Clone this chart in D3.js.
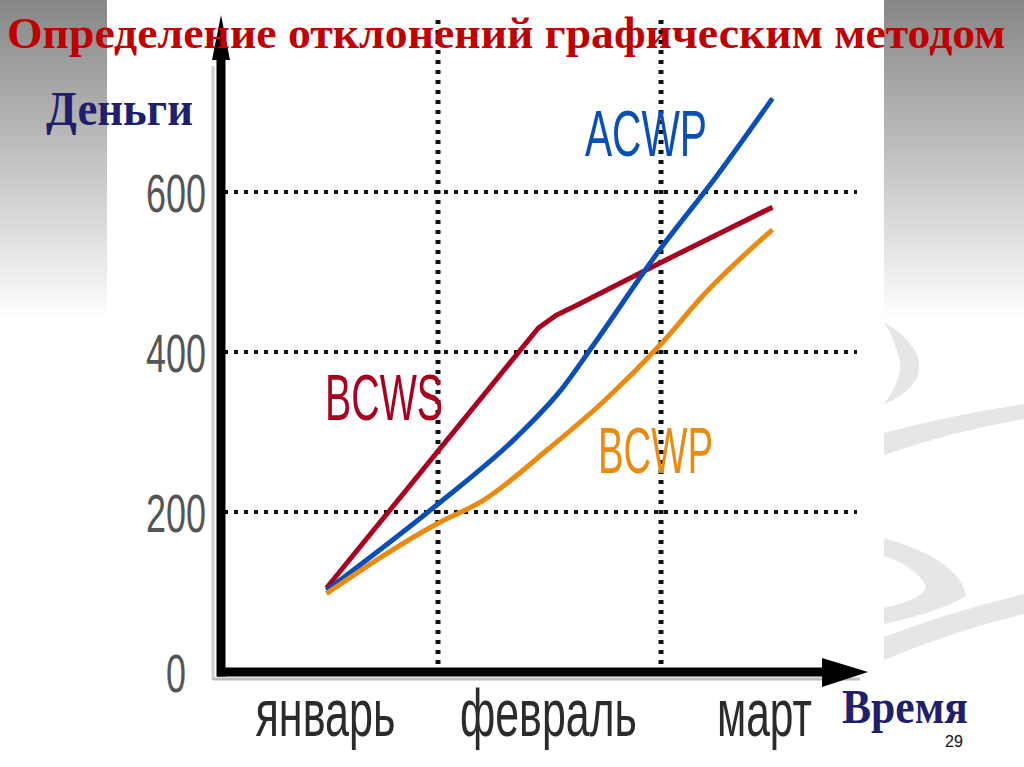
<!DOCTYPE html>
<html>
<head>
<meta charset="utf-8">
<script src="https://cdn.jsdelivr.net/npm/d3@7"></script>
<style>
    html, body { margin: 0; padding: 0; background: #fff; overflow: hidden; }
</style>
</head>
<body>
<script>
// данные графика
var months = ["январь", "февраль", "март"];
var monthWidths = [140, 177, 95];
var yTicks = [0, 200, 400, 600];
var gridValues = [200, 400, 600];
// t - время в месяцах от начала января
var bcwsT = [0.5, 1.45, 1.53, 1.62, 2.0, 2.5];
var bcwsV = [105, 430, 446, 458, 512, 581];
var acwpT = [0.5, 1.0, 1.35, 1.55, 1.7, 2.0, 2.25, 2.5];
var acwpV = [102, 210, 293, 352, 410, 530, 620, 717];
var bcwpT = [0.5, 1.0, 1.2, 1.5, 1.75, 2.0, 2.2, 2.5];
var bcwpV = [98, 186, 214, 280, 340, 410, 474, 553];
var seriesNames = ["BCWS", "ACWP", "BCWP"];

const W = 1024, H = 767;
const svg = d3.select("body").append("svg")
    .attr("width", W)
    .attr("height", H)
    .style("display", "block");

// сжать текст по ширине (узкий шрифт на слайде)
function squeeze(t, x, y, width, middle) {
    const n = t.node().getComputedTextLength();
    const s = width / n;
    const x0 = middle ? x - width / 2 : x;
    t.attr("text-anchor", "start")
        .attr("transform", `translate(${x0},${y}) scale(${s},1)`);
}

// фон слайда
const defs = svg.append("defs");
const grad = defs.append("linearGradient")
    .attr("id", "fon")
    .attr("x1", 0).attr("y1", 0).attr("x2", 0).attr("y2", 1);
grad.append("stop").attr("offset", "0%").attr("stop-color", "#868686");
grad.append("stop").attr("offset", "100%").attr("stop-color", "#ffffff");

svg.append("rect").attr("width", W).attr("height", H).attr("fill", "#fff");
svg.append("rect").attr("x", 0).attr("y", 0).attr("width", 107).attr("height", 320).attr("fill", "url(#fon)");
svg.append("rect").attr("x", 884).attr("y", 0).attr("width", 140).attr("height", 320).attr("fill", "url(#fon)");

// светлые завитки справа
const swirl = "#e6e6e6";
svg.append("path").attr("fill", swirl)
    .attr("d", "M884,322 Q930,350 916,380 Q905,396 884,404 Q902,380 900,362 Q895,340 884,322 Z");
svg.append("path").attr("fill", swirl)
    .attr("d", "M884,433 Q950,415 1024,404 L1024,419 Q950,432 884,455 Z");
svg.append("path").attr("fill", swirl)
    .attr("d", "M884,538 Q960,560 966,596 Q940,612 884,624 L884,608 Q926,598 926,586 Q915,566 884,556 Z");
svg.append("path").attr("fill", swirl)
    .attr("d", "M884,637 Q950,612 1024,594 L1024,614 Q950,632 884,660 Z");

// шкалы
const x = d3.scaleLinear().domain([0, 3]).range([215, 884]);
const xBand = d3.scaleBand().domain(months).range([215, 884]);
const y = d3.scaleLinear().domain([0, 600]).range([672, 192]);

// сетка
svg.selectAll(".hgrid").data(gridValues).enter().append("line")
    .attr("x1", 224).attr("x2", 857)
    .attr("y1", d => y(d)).attr("y2", d => y(d))
    .attr("stroke", "#111")
    .attr("stroke-width", 4)
    .attr("stroke-dasharray", "4,6");
svg.selectAll(".vgrid").data([1, 2]).enter().append("line")
    .attr("x1", d => x(d)).attr("x2", d => x(d))
    .attr("y1", 20).attr("y2", 664)
    .attr("stroke", "#111")
    .attr("stroke-width", 5)
    .attr("stroke-dasharray", "4,6");

// тени осей
svg.append("line").attr("x1", 213).attr("x2", 213).attr("y1", 66).attr("y2", 680)
    .attr("stroke", "#cfcfcf").attr("stroke-width", 3);
svg.append("line").attr("x1", 213).attr("x2", 860).attr("y1", 679).attr("y2", 679)
    .attr("stroke", "#bdbdbd").attr("stroke-width", 3);

// оси
svg.append("line").attr("x1", 221).attr("x2", 221).attr("y1", 58).attr("y2", y(0) + 4.5)
    .attr("stroke", "#000").attr("stroke-width", 9);
svg.append("path").attr("d", "M221,15 L230,60 L212,60 Z").attr("fill", "#000");
svg.append("line").attr("x1", 217).attr("x2", 824).attr("y1", y(0)).attr("y2", y(0))
    .attr("stroke", "#000").attr("stroke-width", 9);
svg.append("path").attr("d", "M868,672 L822,658 L822,687 Z").attr("fill", "#000");

// подписи оси Y
yTicks.forEach(d => {
    const t = svg.append("text")
        .attr("font-family", "Liberation Sans, Arial, sans-serif")
        .attr("font-size", 54)
        .attr("fill", "#555")
        .text(d);
    squeeze(t, 176, y(d) + 20, String(d).length * 20, true);
});

// подписи месяцев
months.forEach((m, i) => {
    const t = svg.append("text")
        .attr("font-family", "Liberation Sans, Arial, sans-serif")
        .attr("font-size", 66)
        .attr("fill", "#2b2b2b")
        .text(m);
    const cx = xBand(m) + xBand.bandwidth() / 2 - (i === 2 ? 8 : 1);
    squeeze(t, cx, 736, monthWidths[i], true);
});

// линии: BCWS с изломом, остальные сглажены
const lineStraight = d3.line()
    .x(d => x(d[0]))
    .y(d => y(d[1]));
const lineSmooth = d3.line()
    .x(d => x(d[0]))
    .y(d => y(d[1]))
    .curve(d3.curveMonotoneX);

const series = [
    { name: seriesNames[0], t: bcwsT, v: bcwsV, color: "#a8001e", lx: 325, ly: 420, w: 118, gen: lineStraight },
    { name: seriesNames[1], t: acwpT, v: acwpV, color: "#0a4fb8", lx: 585, ly: 156, w: 122, gen: lineSmooth },
    { name: seriesNames[2], t: bcwpT, v: bcwpV, color: "#ea8a10", lx: 598, ly: 473, w: 115, gen: lineSmooth }
];

series.forEach(s => {
    const pts = s.t.map((t, i) => [t, s.v[i]]);
    svg.append("path")
        .datum(pts)
        .attr("d", s.gen)
        .attr("fill", "none")
        .attr("stroke", s.color)
        .attr("stroke-width", 5)
        .attr("stroke-linejoin", "round");
    const lbl = svg.append("text")
        .attr("font-family", "Liberation Sans, Arial, sans-serif")
        .attr("font-size", 64)
        .attr("fill", s.color)
        .text(s.name);
    squeeze(lbl, s.lx, s.ly, s.w, false);
});

// заголовок и подписи осей
const title = svg.append("text")
    .attr("font-family", "Liberation Serif, Times New Roman, serif")
    .attr("font-weight", "bold")
    .attr("font-size", 44)
    .attr("fill", "#c00000")
    .text("Определение отклонений графическим методом");
squeeze(title, 7, 48, 999, false);

const money = svg.append("text")
    .attr("font-family", "Liberation Serif, Times New Roman, serif")
    .attr("font-weight", "bold")
    .attr("font-size", 48)
    .attr("fill", "#1f1f6e")
    .text("Деньги");
squeeze(money, 46, 125, 147, false);

const time = svg.append("text")
    .attr("font-family", "Liberation Serif, Times New Roman, serif")
    .attr("font-weight", "bold")
    .attr("font-size", 48)
    .attr("fill", "#1f1f6e")
    .text("Время");
squeeze(time, 842, 723, 126, false);

svg.append("text")
    .attr("x", 954).attr("y", 747)
    .attr("text-anchor", "middle")
    .attr("font-family", "Liberation Sans, Arial, sans-serif")
    .attr("font-size", 16)
    .attr("fill", "#111")
    .text("29");
</script>
</body>
</html>
